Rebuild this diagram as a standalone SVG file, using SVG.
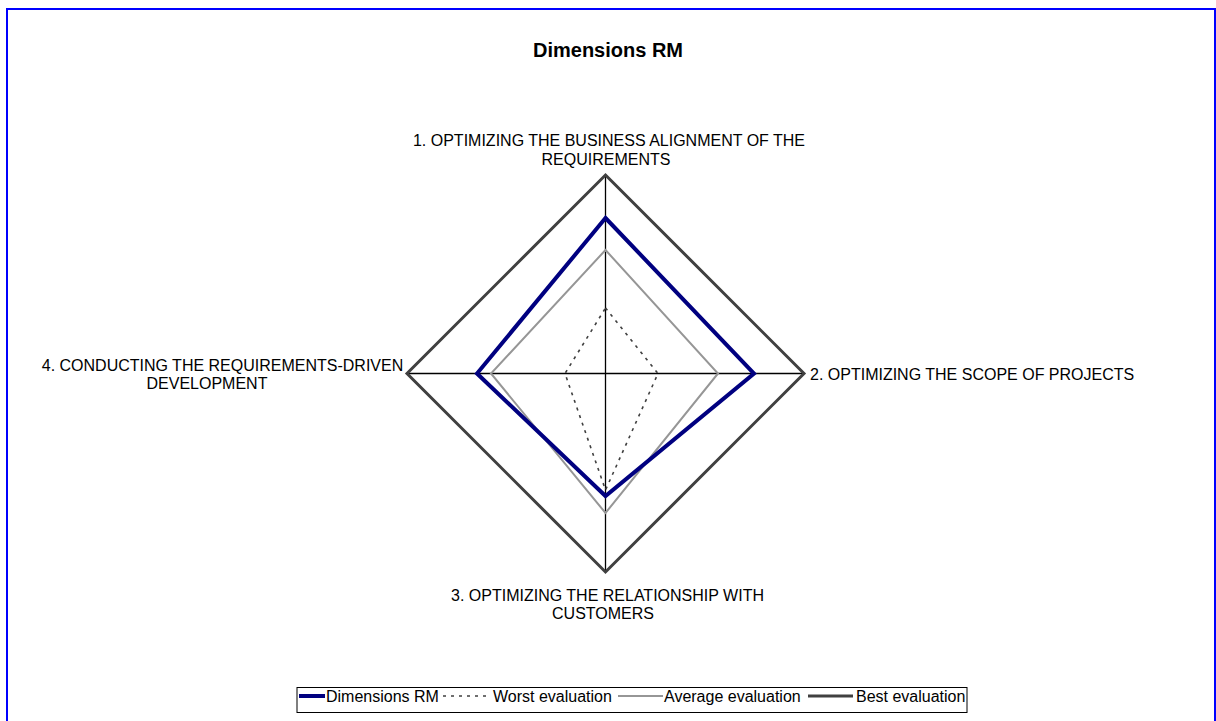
<svg xmlns="http://www.w3.org/2000/svg" width="1216" height="721" viewBox="0 0 1216 721">
<style>
text{font-family:"Liberation Sans",Arial,sans-serif;font-size:16px;fill:#000}
.title{font-weight:bold;font-size:20px}
.best{fill:none;stroke:#404040;stroke-width:3;stroke-linejoin:miter}
.rm{fill:none;stroke:#000080;stroke-width:4;stroke-linejoin:miter}
.avg{fill:none;stroke:#969696;stroke-width:2}
.worst{fill:none;stroke:#404040;stroke-width:1.6;stroke-dasharray:3 5}
.axis{stroke:#000;stroke-width:1.3}
</style>
<rect x="0" y="0" width="1216" height="721" fill="#fff"/>
<rect x="7" y="9" width="1208" height="730" fill="none" stroke="#0000ff" stroke-width="2"/>
<text class="title" x="608" y="57" text-anchor="middle">Dimensions RM</text>
<g id="axes">
<line class="axis" x1="605.5" y1="175" x2="605.5" y2="572"/>
<line class="axis" x1="407" y1="373.5" x2="804" y2="373.5"/>
</g>
<g id="series">
<polygon id="best" class="best" points="605.5,175 804,373.5 605.5,572 407,373.5"/>
<polygon id="average" class="avg" points="605.5,250 718,373.5 605.5,513 491,373.5"/>
<polygon id="dimensions-rm" class="rm" points="605.5,218 754,373.5 605.5,496 477,373.5"/>
<polygon id="worst" class="worst" points="605.5,308 658,373.5 605.5,490 565,373.5"/>
</g>
<g id="label1">
<text x="609" y="146" text-anchor="middle">1. OPTIMIZING THE BUSINESS ALIGNMENT OF THE</text>
<text x="606" y="165" text-anchor="middle">REQUIREMENTS</text>
</g>
<g id="label2">
<text x="810" y="380">2. OPTIMIZING THE SCOPE OF PROJECTS</text>
</g>
<g id="label3">
<text x="607.5" y="601" text-anchor="middle">3. OPTIMIZING THE RELATIONSHIP WITH</text>
<text x="603" y="619" text-anchor="middle">CUSTOMERS</text>
</g>
<g id="label4">
<text x="222.5" y="371" text-anchor="middle">4. CONDUCTING THE REQUIREMENTS-DRIVEN</text>
<text x="207" y="389" text-anchor="middle">DEVELOPMENT</text>
</g>
<g id="legend">
<rect x="297" y="687.5" width="670" height="25" fill="#fff" stroke="#000" stroke-width="1"/>
<line x1="299" y1="696" x2="325" y2="696" stroke="#000080" stroke-width="4"/>
<text x="326" y="702">Dimensions RM</text>
<line x1="443" y1="696" x2="488" y2="696" class="worst"/>
<text x="493" y="702">Worst evaluation</text>
<line x1="618" y1="696" x2="663" y2="696" stroke="#969696" stroke-width="2"/>
<text x="664" y="702">Average evaluation</text>
<line x1="808" y1="696" x2="853" y2="696" stroke="#404040" stroke-width="3"/>
<text x="856" y="702">Best evaluation</text>
</g>
</svg>
